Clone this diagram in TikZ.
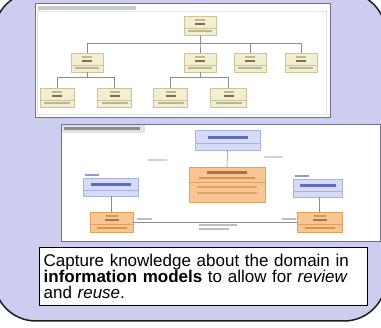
\documentclass[tikz,border=0pt]{standalone}
\usepackage{fontspec}
\setmainfont{Liberation Sans}
\usetikzlibrary{calc}

\definecolor{panel}{RGB}{205,205,240}
\definecolor{paneledge}{RGB}{30,30,34}
\definecolor{shotedge}{RGB}{112,112,150}
\definecolor{innerframe}{RGB}{226,226,226}
\definecolor{titlegray}{RGB}{200,200,200}
\definecolor{yfill}{RGB}{242,238,210}
\definecolor{yedge}{RGB}{204,196,152}
\definecolor{yname}{RGB}{120,114,80}
\definecolor{yhead}{RGB}{190,182,140}
\definecolor{bfill}{RGB}{214,219,248}
\definecolor{bedge}{RGB}{168,176,230}
\definecolor{bname}{RGB}{96,108,190}
\definecolor{ofill}{RGB}{247,198,146}
\definecolor{oedge}{RGB}{226,160,92}
\definecolor{oname}{RGB}{176,112,58}
\definecolor{olight}{RGB}{214,150,90}
\definecolor{wirec}{RGB}{140,140,140}
\definecolor{labelgray}{RGB}{190,190,190}

\tikzset{
  shot/.style={draw=shotedge, line width=0.9pt, fill=white},
  ybox/.style={draw=yedge, fill=yfill, line width=0.5pt, inner sep=0pt,
    minimum width=32, minimum height=19, anchor=north},
  bbox/.style={draw=bedge, fill=bfill, line width=0.5pt, inner sep=0pt, anchor=north},
  obox/.style={draw=oedge, fill=ofill, line width=0.5pt, inner sep=0pt, anchor=north},
  wire/.style={draw=wirec, line width=0.6pt},
  lbl/.style={fill=labelgray},
}

% compartments of a small class box: stereotype, name, separator, attribute
\newcommand\classmarks[5]{%
  \fill[#2] ($(#1.north)+(-5,3.2)$) rectangle ++(10,1.4);
  \fill[#3] ($(#1.north)+(-5,7)$) rectangle ++(10,2.4);
  \draw[#4, line width=0.4pt] ($(#1.north west)+(0,12.5)$) -- ($(#1.north east)+(0,12.5)$);
  \fill[#2] ($(#1.north)+(-#5,14.5)$) rectangle ++(2*#5,1.8);
}

\begin{document}
\begin{tikzpicture}[x=1pt, y=-1pt]
\useasboundingbox (0,0) rectangle (381,328);
\fill[white] (0,0) rectangle (381,328);

% rounded panel
\draw[fill=panel, draw=paneledge, line width=1.5pt, rounded corners=42]
  (-6,-8) rectangle (386,321);

% ---------- hierarchy screenshot ----------
\draw[shot] (35,3) rectangle (330,117);
\draw[innerframe, line width=0.6pt] (37,11) rectangle (326,114);
\fill[titlegray] (38,6) rectangle (136,10);

\node[ybox] (root) at (200,16) {};
\node[ybox] (ca) at (87,53) {};
\node[ybox] (cb) at (200,53) {};
\node[ybox] (cc) at (250,53) {};
\node[ybox] (cd) at (301,53) {};
\node[ybox, minimum width=34] (ga) at (57,88) {};
\node[ybox, minimum width=34] (gb) at (114.5,88) {};
\node[ybox, minimum width=34] (gc) at (170.5,88) {};
\node[ybox, minimum width=36] (gd) at (228.5,88) {};

\foreach \n in {root,ca,cb,cc,cd}{\classmarks{\n}{yhead}{yname}{yedge}{12}}
\foreach \n in {ga,gb,gc,gd}{\classmarks{\n}{yhead}{yname}{yedge}{13}}

\coordinate (busA) at (0,43);
\coordinate (busB) at (0,77);
\foreach \c in {ca,cb,cc,cd}
  \draw[wire] (root.south) -- (root.south |- busA) -| (\c.north);
\foreach \c in {ga,gb}
  \draw[wire] (ca.south) -- (ca.south |- busB) -| (\c.north);
\foreach \c in {gc,gd}
  \draw[wire] (cb.south) -- (cb.south |- busB) -| (\c.north);

% ---------- component screenshot ----------
\draw[shot] (61,124) rectangle (380,241);
\fill[innerframe] (62,125.5) rectangle (145,133);
\fill[titlegray!70!black] (64,127.5) rectangle (140,130);

\node[bbox, minimum width=65, minimum height=20] (body) at (227.5,130) {};
\fill[bname] ($(body.north)+(-20,6)$) rectangle ++(40,3);
\draw[bedge, line width=0.4pt] ($(body.north west)+(0,13)$) -- ($(body.north east)+(0,13)$);

\node[obox, minimum width=76, minimum height=35] (core) at (227,167) {};
\fill[oname] ($(core.north)+(-20,4.5)$) rectangle ++(40,2.4);
\fill[olight] ($(core.north)+(-28,10)$) rectangle ++(56,1.8);
\draw[oedge, line width=0.4pt] ($(core.north west)+(0,15)$) -- ($(core.north east)+(0,15)$);
\fill[olight!70!ofill] ($(core.north)+(-30,19)$) rectangle ++(60,1.8);
\fill[olight!70!ofill] ($(core.north)+(-30,25)$) rectangle ++(60,1.8);

\node[bbox, minimum width=55, minimum height=18] (lb) at (110.5,178) {};
\fill[bname!60!bfill] ($(lb.north west)+(2,-4)$) rectangle ++(14,2);
\fill[bname] ($(lb.north)+(-20,5)$) rectangle ++(40,3);
\draw[bedge, line width=0.4pt] ($(lb.north west)+(0,12)$) -- ($(lb.north east)+(0,12)$);

\node[bbox, minimum width=49, minimum height=18] (rb) at (317.5,179) {};
\fill[bname!60!bfill] ($(rb.north west)+(2,-4)$) rectangle ++(14,2);
\fill[bname] ($(rb.north)+(-18,5)$) rectangle ++(36,3);
\draw[bedge, line width=0.4pt] ($(rb.north west)+(0,12)$) -- ($(rb.north east)+(0,12)$);

\node[obox, minimum width=43, minimum height=20] (lo) at (111.5,212) {};
\node[obox, minimum width=45, minimum height=20] (ro) at (319.5,212) {};
\foreach \n in {lo,ro}{%
  \fill[olight] ($(\n.north)+(-6,3.5)$) rectangle ++(12,1.4);
  \fill[oname] ($(\n.north)+(-7,7)$) rectangle ++(14,2.4);
  \draw[oedge, line width=0.4pt] ($(\n.north west)+(0,12.5)$) -- ($(\n.north east)+(0,12.5)$);
  \fill[olight] ($(\n.north)+(-15,15)$) rectangle ++(30,1.8);
}

\draw[wire] (body.south) -- (core.north);
\draw[wire] (lb.south -| lo.north) -- (lo.north);
\draw[wire] (rb.south -| ro.north) -- (ro.north);
\draw[wire] (lo.east) -- (ro.west);

% connector labels
\fill[labelgray] (137,218.5) rectangle ++(15,1.8);
\fill[labelgray] (282,218.5) rectangle ++(14,1.8);
\fill[labelgray] (199,224.5) rectangle ++(38,1.8);
\fill[labelgray] (199,228.5) rectangle ++(30,1.8);
\fill[labelgray!70!white] (148,159.5) rectangle ++(19,1.8);
\fill[labelgray!70!white] (264,156.5) rectangle ++(19,1.8);

% ---------- caption ----------
\node[draw=black, line width=1.3pt, fill=white, anchor=north west,
      minimum width=328, minimum height=58, inner xsep=4pt, inner ysep=0pt,
      text width=320, align=left,
      font=\fontsize{17}{16}\selectfont] (note) at (39,247)
  {Capture knowledge about the domain in\\
   \textbf{information models} to allow for \textit{review}\\
   and \textit{reuse}.};
\end{tikzpicture}
\end{document}
